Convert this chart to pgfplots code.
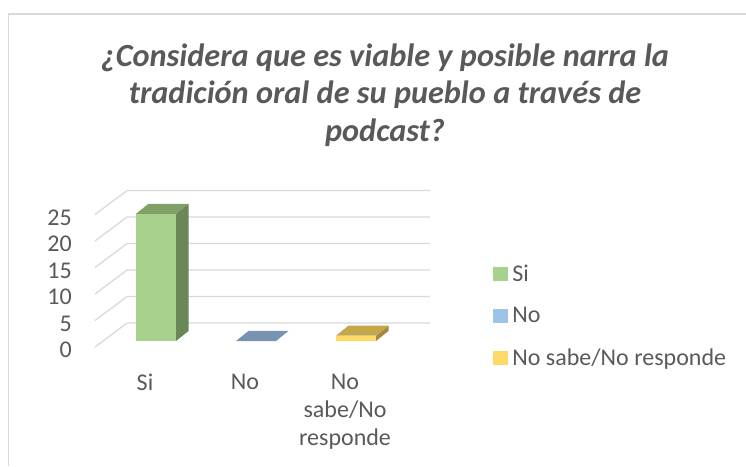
\documentclass[border=0pt]{standalone}
\usepackage{pgfplots}
\pgfplotsset{compat=1.18}
\usepackage{fontspec}
\setmainfont{Carlito}

\definecolor{txt}{HTML}{595959}
\definecolor{gridc}{HTML}{D9D9D9}
\definecolor{gfront}{HTML}{A9D18E}
\definecolor{gtop}{HTML}{80A068}
\definecolor{gside}{HTML}{6A8857}
\definecolor{bfront}{HTML}{9DC3E6}
\definecolor{btop}{HTML}{7893B2}
\definecolor{yfront}{HTML}{FFD966}
\definecolor{ytop}{HTML}{C5A64A}
\definecolor{yside}{HTML}{A38A3C}

\begin{document}
\begin{tikzpicture}
    \useasboundingbox (0pt,0pt) rectangle (746pt,466pt);

    % marco del gráfico
    \draw[gridc, line width=1.5pt] (8.5pt,0pt) -- (8.5pt,452pt) -- (746pt,452pt);

    % título
    \node[
        font=\fontsize{32.3}{37.5}\selectfont\bfseries\itshape,
        text=txt,
        align=center
    ] at (385pt,371pt) {¿Considera que es viable y posible narra la\\tradición oral de su pueblo a través de\\podcast?};

    \begin{axis}[
        at={(95pt,108.4pt)},
        anchor=south west,
        x=100pt, y=5.3pt,
        xmin=-0.5, xmax=2.9,
        ymin=-2, ymax=31,
        clip=false,
        axis line style={draw=none},
        major tick style={draw=none},
        ytick={0,5,10,15,20,25},
        xtick={0,1,2},
        xticklabels={Si,No,{No\\sabe/No\\responde}},
        /pgf/number format/assume math mode=true,
        ticklabel style={font=\fontsize{24}{28}\selectfont, text=txt},
        yticklabel style={anchor=east, inner sep=0pt, xshift=-23pt, yshift=-3pt},
        xticklabel style={anchor=north, inner sep=0pt, yshift=-16pt, align=center},
        legend cell align=left,
        legend style={
            at={(1.17,0.238)},
            anchor=west,
            draw=none,
            fill=none,
            inner sep=0pt,
            row sep=24.5pt,
            nodes={inner sep=0pt},
            /tikz/every odd column/.append style={column sep=5pt},
            font=\fontsize{24}{28}\selectfont,
            text=txt
        }
    ]

        % líneas de cuadrícula (pared y suelo)
        \pgfplotsinvokeforeach{0,5,10,15,20,25}{
            \draw[gridc, line width=1.3pt]
                (axis cs:-0.5,#1) -- ++(32pt,24pt) -- ++(303pt,0pt);
        }

        % Si
        \addplot[ybar, bar width=0.4, bar shift=0.11, fill=gfront, draw=none,
            yshift=6pt, forget plot] coordinates {(0,24)};
        \addplot[fill=gside, draw=none, yshift=6pt, forget plot]
            coordinates {(0.31,0) (0.31,24) (0.435,25.89) (0.435,1.89)} --cycle;
        \addplot[fill=gtop, draw=none, yshift=6pt, forget plot]
            coordinates {(-0.09,24) (0.31,24) (0.435,25.89) (0.035,25.89)} --cycle;

        % No
        \addplot[fill=btop, draw=none, yshift=6pt, forget plot]
            coordinates {(0.91,0) (1.31,0) (1.435,1.89) (1.035,1.89)} --cycle;

        % No sabe/No responde
        \addplot[ybar, bar width=0.4, bar shift=0.11, fill=yfront, draw=none,
            yshift=6pt, forget plot] coordinates {(2,1)};
        \addplot[fill=yside, draw=none, yshift=6pt, forget plot]
            coordinates {(2.31,0) (2.31,1) (2.435,2.89) (2.435,1.89)} --cycle;
        \addplot[fill=ytop, draw=none, yshift=6pt, forget plot]
            coordinates {(1.91,1) (2.31,1) (2.435,2.89) (2.035,2.89)} --cycle;

        % leyenda
        \addlegendimage{legend image code/.code={\fill[gfront] (0pt,-6pt) rectangle (14pt,7pt);}}
        \addlegendentry{Si}
        \addlegendimage{legend image code/.code={\fill[bfront] (0pt,-6pt) rectangle (14pt,7pt);}}
        \addlegendentry{No}
        \addlegendimage{legend image code/.code={\fill[yfront] (0pt,-6pt) rectangle (14pt,7pt);}}
        \addlegendentry{No sabe/No responde}

    \end{axis}
\end{tikzpicture}
\end{document}
